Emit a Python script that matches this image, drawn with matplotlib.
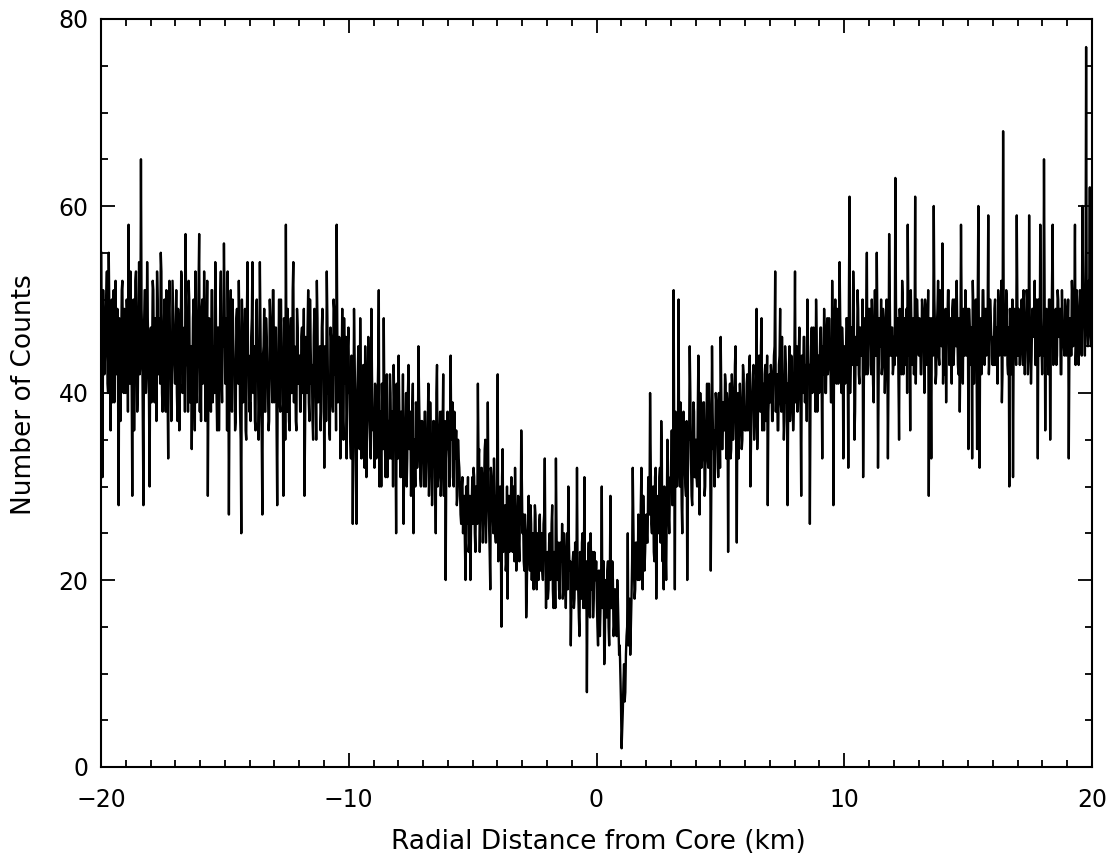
import numpy as np
import matplotlib
matplotlib.use("Agg")
import matplotlib.pyplot as plt
from matplotlib.ticker import MultipleLocator

# Radial count profile, 0.025 km bins from -20 km to +20 km (one row per km)
counts_outer_left = [
    55, 38, 31, 51, 47, 42, 44, 47, 50, 53, 41, 40, 55, 49, 43, 36, 46, 50, 39, 44,
    51, 39, 45, 52, 42, 46, 49, 41, 28, 48, 47, 37, 44, 51, 52, 43, 40, 49, 46, 40,
    43, 50, 48, 38, 58, 46, 41, 53, 45, 41, 29, 48, 50, 36, 44, 52, 53, 45, 38, 40,
    47, 54, 42, 43, 65, 49, 46, 37, 28, 47, 51, 51, 40, 42, 54, 48, 45, 39, 30, 46,
    47, 39, 44, 52, 51, 43, 39, 48, 46, 37, 53, 50, 42, 45, 48, 41, 55, 53, 40, 38,
    45, 47, 50, 42, 38, 51, 47, 40, 33, 49, 52, 44, 44, 37, 41, 52, 49, 46, 43, 41,
    45, 51, 40, 37, 49, 47, 36, 42, 44, 53, 52, 40, 41, 46, 47, 38, 57, 49, 43, 44,
    38, 52, 50, 39, 45, 45, 34, 41, 48, 50, 42, 36, 53, 47, 39, 43, 46, 52, 57, 38,
    44, 37, 49, 50, 41, 43, 53, 48, 37, 39, 46, 52, 29, 41, 48, 46, 43, 38, 51, 51,
    39, 44, 45, 40, 54, 49, 40, 36, 47, 47, 36, 42, 50, 53, 42, 39, 48, 45, 56, 50,
    41, 48, 47, 36, 53, 45, 27, 40, 45, 51, 39, 38, 50, 46, 43, 43, 36, 37, 48, 49,
    42, 41, 52, 47, 38, 35, 25, 50, 46, 39, 40, 44, 49, 36, 35, 48, 54, 42, 44, 38,
    39, 37, 46, 48, 54, 40, 41, 45, 37, 36, 49, 50, 43, 43, 35, 39, 54, 47, 40, 35,
    27, 44, 45, 49, 38, 38, 48, 46, 42, 41, 36, 37, 50, 48, 44, 42, 39, 51, 51, 39,
    42, 47, 47, 36, 28, 44, 44, 50, 39, 38, 50, 45, 41, 41, 29, 48, 46, 35, 58, 43,
    38, 49, 43, 37, 36, 46, 48, 40, 40, 51, 54, 39, 45, 44, 37, 36, 49, 47, 41, 42,
    44, 38, 38, 46, 47, 40, 42, 49, 29, 36, 46, 44, 40, 47, 51, 39, 37, 50, 45, 41,
    43, 37, 35, 46, 49, 43, 41, 35, 52, 48, 39, 40, 44, 45, 36, 38, 47, 49, 42, 44,
    32, 45, 45, 37, 53, 48, 40, 41, 36, 35, 47, 46, 42, 39, 38, 50, 49, 42, 44, 36,
    58, 47, 39, 40, 46, 44, 33, 38, 43, 49, 37, 35, 48, 43, 41, 46, 33, 38, 45, 47,
]
counts_inner_left = [
    40, 42, 35, 33, 44, 40, 26, 36, 49, 44, 38, 31, 26, 39, 42, 45, 36, 34, 48, 41,
    33, 37, 40, 43, 37, 32, 45, 40, 31, 35, 39, 46, 43, 38, 35, 33, 49, 42, 38, 36,
    36, 32, 41, 40, 33, 35, 39, 43, 51, 30, 35, 38, 30, 41, 38, 34, 48, 39, 34, 31,
    40, 42, 31, 36, 37, 33, 42, 40, 33, 37, 38, 30, 43, 39, 36, 35, 25, 41, 35, 33,
    44, 39, 34, 31, 38, 36, 31, 42, 26, 33, 36, 37, 40, 30, 33, 40, 43, 34, 35, 38,
    29, 32, 38, 41, 25, 35, 34, 30, 39, 38, 32, 34, 45, 40, 36, 31, 30, 37, 37, 33,
    33, 30, 38, 38, 30, 33, 36, 36, 41, 29, 32, 39, 35, 35, 28, 31, 37, 37, 34, 32,
    25, 40, 43, 30, 31, 35, 36, 38, 29, 31, 38, 36, 42, 29, 33, 37, 20, 33, 35, 38,
    34, 37, 30, 31, 44, 35, 36, 39, 31, 30, 38, 34, 33, 36, 28, 29, 35, 33, 32, 30,
    27, 26, 30, 31, 25, 28, 29, 24, 20, 30, 26, 27, 31, 23, 24, 29, 20, 26, 28, 31,
    26, 32, 31, 25, 23, 30, 29, 26, 41, 33, 34, 23, 27, 29, 32, 31, 24, 26, 30, 34,
    35, 24, 28, 28, 39, 30, 26, 23, 19, 32, 31, 27, 27, 25, 33, 30, 25, 24, 29, 28,
    42, 22, 27, 29, 30, 25, 15, 31, 34, 23, 24, 27, 28, 21, 22, 30, 18, 26, 29, 23,
    25, 28, 31, 24, 23, 30, 27, 22, 32, 27, 21, 25, 26, 29, 24, 22, 28, 26, 36, 30,
    25, 27, 22, 21, 27, 25, 16, 19, 24, 26, 29, 23, 21, 28, 26, 20, 23, 25, 19, 22,
    28, 27, 22, 19, 25, 24, 20, 26, 27, 21, 23, 25, 21, 20, 26, 27, 33, 23, 17, 22,
    23, 18, 19, 24, 25, 20, 21, 26, 28, 19, 17, 23, 22, 17, 33, 25, 20, 21, 24, 19,
    18, 24, 23, 22, 26, 18, 19, 25, 22, 20, 17, 23, 25, 19, 30, 24, 21, 22, 13, 18,
    20, 22, 23, 17, 18, 24, 22, 19, 32, 21, 19, 16, 14, 23, 21, 18, 24, 25, 17, 20,
    31, 17, 20, 22, 8, 19, 22, 24, 18, 16, 25, 21, 19, 23, 16, 18, 23, 20, 20, 22,
]
counts_inner_right = [
    18, 15, 13, 21, 21, 14, 17, 20, 30, 17, 19, 22, 11, 13, 20, 19, 16, 21, 22, 15,
    13, 20, 29, 17, 17, 22, 20, 14, 15, 19, 19, 16, 14, 20, 18, 15, 12, 13, 10, 7,
    2, 4, 6, 9, 11, 7, 8, 12, 14, 15, 25, 13, 16, 18, 12, 15, 18, 22, 32, 26,
    21, 18, 19, 24, 24, 21, 20, 27, 26, 20, 22, 28, 32, 23, 19, 29, 25, 21, 23, 26,
    27, 24, 24, 31, 30, 27, 40, 33, 26, 25, 29, 30, 23, 22, 31, 32, 18, 26, 28, 29,
    25, 31, 32, 24, 37, 33, 22, 27, 19, 30, 26, 23, 20, 28, 35, 32, 27, 25, 30, 31,
    31, 36, 28, 29, 51, 34, 19, 38, 34, 30, 37, 35, 50, 32, 30, 39, 35, 28, 25, 36,
    38, 33, 32, 30, 29, 37, 20, 31, 36, 35, 45, 40, 33, 29, 28, 34, 39, 38, 31, 31,
    35, 31, 30, 38, 44, 34, 27, 40, 37, 32, 33, 36, 39, 39, 29, 30, 36, 37, 41, 33,
    32, 41, 38, 34, 21, 31, 45, 38, 34, 36, 30, 32, 40, 39, 35, 35, 31, 40, 37, 32,
    46, 40, 34, 34, 39, 38, 36, 42, 41, 33, 40, 39, 23, 36, 37, 41, 33, 34, 42, 40,
    35, 37, 38, 43, 45, 35, 24, 39, 40, 33, 36, 41, 39, 38, 34, 35, 43, 42, 37, 36,
    38, 36, 41, 42, 36, 38, 43, 44, 30, 35, 39, 40, 42, 43, 35, 37, 40, 41, 49, 34,
    37, 43, 44, 39, 38, 45, 48, 36, 41, 40, 36, 42, 43, 37, 39, 44, 28, 38, 40, 42,
    39, 43, 42, 37, 37, 41, 44, 45, 53, 38, 40, 42, 36, 36, 43, 44, 49, 39, 38, 46,
    41, 40, 35, 37, 45, 43, 39, 41, 28, 38, 42, 45, 37, 39, 44, 42, 40, 36, 38, 44,
    53, 39, 41, 45, 38, 41, 44, 47, 40, 38, 29, 44, 42, 40, 46, 46, 39, 42, 43, 37,
    50, 45, 41, 43, 26, 39, 45, 47, 40, 41, 47, 44, 42, 38, 50, 46, 38, 43, 44, 40,
    44, 47, 47, 41, 33, 45, 42, 49, 46, 40, 40, 46, 48, 42, 43, 48, 45, 44, 39, 39,
    52, 47, 28, 43, 46, 50, 42, 41, 49, 46, 41, 44, 54, 48, 44, 40, 47, 45, 33, 42,
]
counts_outer_right = [
    45, 41, 42, 48, 48, 44, 32, 50, 61, 40, 44, 47, 47, 43, 53, 49, 35, 38, 46, 46,
    43, 51, 49, 42, 41, 47, 47, 44, 44, 50, 31, 39, 48, 46, 42, 48, 55, 42, 46, 49,
    47, 49, 43, 42, 50, 47, 41, 39, 46, 51, 44, 44, 55, 48, 32, 41, 48, 46, 45, 50,
    42, 43, 49, 48, 46, 40, 43, 49, 50, 45, 33, 42, 57, 51, 44, 44, 47, 47, 42, 43,
    46, 43, 63, 50, 44, 45, 48, 41, 35, 49, 47, 47, 42, 52, 50, 42, 45, 48, 43, 44,
    49, 40, 58, 49, 44, 46, 36, 51, 47, 43, 45, 48, 42, 45, 61, 41, 46, 50, 48, 46,
    44, 48, 47, 42, 42, 50, 49, 45, 45, 40, 50, 49, 43, 44, 46, 51, 29, 46, 48, 42,
    33, 48, 45, 44, 60, 50, 47, 41, 42, 47, 49, 52, 44, 43, 51, 49, 46, 45, 56, 41,
    45, 42, 48, 49, 39, 46, 47, 51, 51, 43, 44, 48, 46, 41, 49, 50, 43, 45, 50, 47,
    45, 52, 47, 43, 42, 48, 38, 44, 58, 49, 46, 41, 49, 47, 44, 51, 48, 44, 45, 49,
    34, 49, 47, 43, 44, 47, 33, 52, 49, 41, 46, 48, 50, 45, 34, 50, 60, 43, 32, 47,
    48, 42, 45, 51, 51, 46, 43, 49, 47, 44, 49, 48, 59, 42, 44, 50, 48, 46, 46, 43,
    45, 43, 49, 50, 43, 46, 47, 41, 51, 49, 44, 45, 46, 52, 39, 42, 68, 48, 48, 44,
    45, 51, 50, 43, 42, 47, 30, 49, 47, 42, 44, 50, 31, 45, 49, 48, 46, 43, 59, 50,
    44, 49, 48, 43, 46, 48, 50, 45, 43, 51, 47, 42, 45, 47, 51, 50, 42, 44, 59, 48,
    46, 41, 44, 49, 49, 46, 47, 52, 43, 43, 50, 47, 33, 50, 46, 44, 58, 48, 45, 42,
    47, 44, 65, 51, 36, 46, 49, 48, 45, 42, 50, 50, 35, 45, 46, 52, 58, 43, 44, 47,
    48, 49, 43, 44, 51, 50, 46, 46, 49, 42, 42, 51, 47, 47, 45, 44, 50, 49, 44, 45,
    46, 50, 33, 44, 48, 48, 44, 52, 50, 45, 47, 49, 58, 43, 45, 51, 49, 47, 43, 46,
    51, 50, 46, 44, 60, 53, 48, 47, 44, 49, 77, 48, 47, 45, 52, 51, 62, 46, 45, 49,
]

x_min, x_max, bin_width = -20.0, 20.0, 0.025
x_ticks = [-20, -10, 0, 10, 20]
y_ticks = [0, 20, 40, 60, 80]

counts = np.array(counts_outer_left + counts_inner_left
                  + counts_inner_right + counts_outer_right, dtype=float)
centers = x_min + bin_width * (np.arange(counts.size) + 0.5)

plt.rcParams["font.family"] = ["DejaVu Sans"]

fig = plt.figure(figsize=(11.18, 8.58), dpi=100)
ax = fig.add_axes([101 / 1118, 91 / 858, 991 / 1118, 748 / 858])

ax.plot(centers, counts, color="black", lw=1.7)

ax.set_xlim(x_min, x_max)
ax.set_ylim(0, 80)
ax.set_xticks(x_ticks)
ax.set_yticks(y_ticks)
ax.xaxis.set_minor_locator(MultipleLocator(1))
ax.yaxis.set_minor_locator(MultipleLocator(5))
ax.tick_params(which="both", direction="in", top=True, right=True,
               width=1.3, colors="black")
ax.tick_params(which="major", length=10, labelsize=17)
ax.tick_params(axis="x", which="major", pad=15)
ax.tick_params(axis="y", which="major", pad=9)
ax.tick_params(which="minor", length=5)
for s in ax.spines.values():
    s.set_linewidth(1.5)

fig.text(598 / 1118, (858 - 842) / 858, "Radial Distance from Core (km)",
         ha="center", va="center", fontsize=19)
fig.text(24 / 1118, (858 - 395) / 858, "Number of Counts",
         ha="center", va="center", rotation=90, fontsize=19)

fig.savefig("out.png", dpi=100)
